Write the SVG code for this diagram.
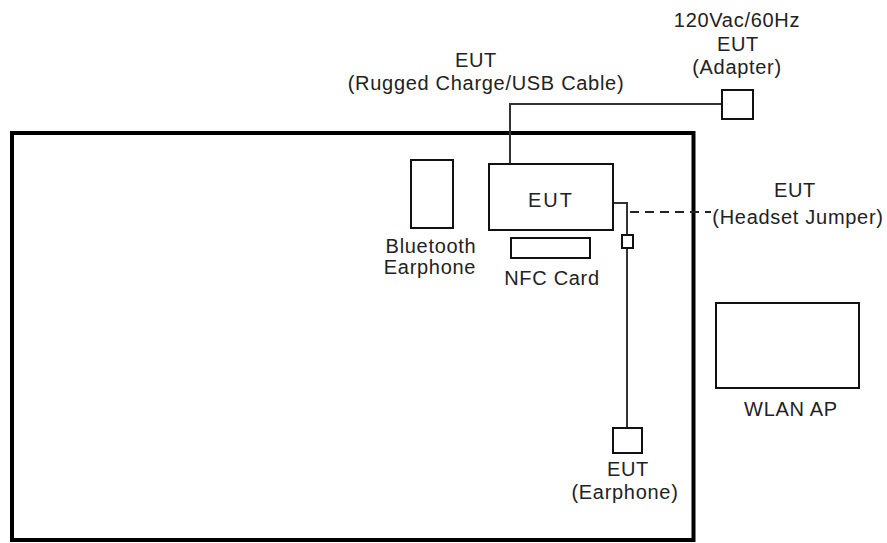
<svg xmlns="http://www.w3.org/2000/svg" width="887" height="543" viewBox="0 0 887 543">
<style>
text{font-family:"Liberation Sans",Arial,sans-serif;font-size:20px;letter-spacing:0.7px;fill:#222;text-anchor:middle}
.box{fill:#fff;stroke:#111;stroke-width:2}
.w{fill:none;stroke:#333;stroke-width:2}
</style>
<rect x="0" y="0" width="887" height="543" fill="#fff"/>
<g id="room"><rect x="12" y="133" width="681.5" height="407" fill="none" stroke="#000" stroke-width="4"/></g>
<g id="connectors">
<polyline class="w" points="510,164 510,104 722,104"/>
<polyline class="w" points="613,203 627,203 627,235"/>
<line class="w" x1="627" y1="248" x2="627" y2="428"/>
<line x1="630" y1="212" x2="711" y2="212" stroke="#222" stroke-width="2" stroke-dasharray="9 6"/>
</g>
<g id="adapter"><rect class="box" x="722" y="90" width="31" height="29"/>
<text x="737" y="27">120Vac/60Hz</text><text x="738" y="51">EUT</text><text x="737" y="74">(Adapter)</text></g>
<g id="cable-label"><text x="476" y="67">EUT</text><text x="486" y="90">(Rugged Charge/USB Cable)</text></g>
<g id="eut"><rect class="box" x="489" y="164" width="124" height="66" stroke="#444"/><text x="551" y="207" style="letter-spacing:2px">EUT</text></g>
<g id="bluetooth"><rect class="box" x="411" y="160" width="42" height="68"/><text x="431" y="253">Bluetooth</text><text x="430" y="274">Earphone</text></g>
<g id="nfc"><rect class="box" x="511" y="238" width="79" height="20"/><text x="552" y="285">NFC Card</text></g>
<g id="jumper"><rect class="box" x="622" y="235" width="11" height="13"/><text x="795" y="197">EUT</text><text x="798" y="224">(Headset Jumper)</text></g>
<g id="earphone"><rect class="box" x="613" y="428" width="29" height="25"/><text x="628" y="476">EUT</text><text x="625" y="499">(Earphone)</text></g>
<g id="wlan"><rect class="box" x="716" y="303" width="143" height="85"/><text x="791" y="416">WLAN AP</text></g>
</svg>
